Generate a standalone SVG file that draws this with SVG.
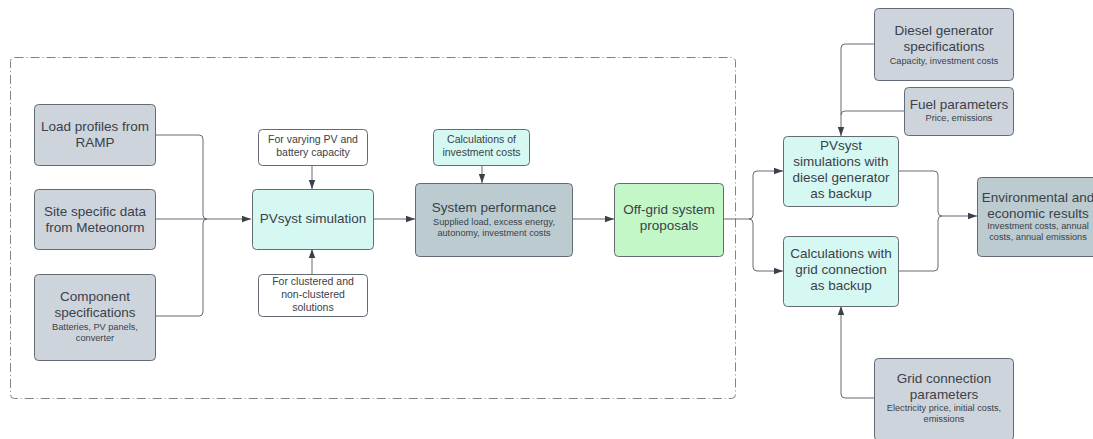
<svg xmlns="http://www.w3.org/2000/svg" width="1093" height="439" viewBox="0 0 1093 439">
<style>
  .box { stroke: #646b75; stroke-width: 1; }
  .gray { fill: #ced4dc; }
  .dark { fill: #bccbcf; }
  .cyan { fill: #d6f8f2; }
  .green { fill: #c3f7c8; }
  .white { fill: #ffffff; }
  text { font-family: "Liberation Sans", Arial, sans-serif; fill: #3a414a; text-anchor: middle; }
  .t { font-size: 13.5px; }
  .s { font-size: 9.2px; }
  .m { font-size: 10.5px; }
  .conn path { fill: none; stroke: #646b75; stroke-width: 1; }
</style>
<defs>
  <marker id="arr" markerUnits="userSpaceOnUse" markerWidth="10" markerHeight="8" refX="9" refY="4" orient="auto">
    <path d="M0,0.8 L9,4 L0,7.2 z" fill="#3a414a"/>
  </marker>
</defs>
<rect width="1093" height="439" fill="#ffffff"/>

<rect id="container" x="10.5" y="57.5" width="725" height="341" rx="4" fill="none" stroke="#7d838b" stroke-width="1" stroke-dasharray="9,3,1,3"/>

<g class="conn" id="connectors">
  <path d="M155,135 H199 Q203,135 203,139 V215 Q203,219 207,219" />
  <path d="M155,316 H199 Q203,316 203,312 V223 Q203,219 207,219" />
  <path d="M155,219 H251" marker-end="url(#arr)"/>
  <path d="M312,165 V189" marker-end="url(#arr)"/>
  <path d="M312,274 V249" marker-end="url(#arr)"/>
  <path d="M373,219 H415" marker-end="url(#arr)"/>
  <path d="M482,165 V183" marker-end="url(#arr)"/>
  <path d="M572,219 H614" marker-end="url(#arr)"/>
  <path d="M723,219 H749 Q753,219 753,215 V175 Q753,171 757,171 H783" marker-end="url(#arr)"/>
  <path d="M749,219 Q753,219 753,223 V267 Q753,271 757,271 H783" marker-end="url(#arr)"/>
  <path d="M874,44 H845 Q841,44 841,48 V136" marker-end="url(#arr)"/>
  <path d="M904,111 H845 Q841,111 841,115" />
  <path d="M874,398 H845 Q841,398 841,394 V306" marker-end="url(#arr)"/>
  <path d="M898,171 H934 Q938,171 938,175 V212 Q938,216 942,216 H977" marker-end="url(#arr)"/>
  <path d="M898,271 H934 Q938,271 938,267 V220 Q938,216 942,216" />
</g>

<g id="load-profiles">
  <rect class="box gray" x="34.5" y="104.5" width="121" height="61" rx="4"/>
  <text class="t" x="95" y="131">Load profiles from</text>
  <text class="t" x="95" y="147">RAMP</text>
</g>
<g id="site-data">
  <rect class="box gray" x="34.5" y="189.5" width="121" height="60" rx="4"/>
  <text class="t" x="95" y="216">Site specific data</text>
  <text class="t" x="95" y="232">from Meteonorm</text>
</g>
<g id="component-specs">
  <rect class="box gray" x="34.5" y="274.5" width="121" height="86" rx="4"/>
  <text class="t" x="95" y="301">Component</text>
  <text class="t" x="95" y="317">specifications</text>
  <text class="s" x="95" y="329.5">Batteries, PV panels,</text>
  <text class="s" x="95" y="340.5">converter</text>
</g>
<g id="varying">
  <rect class="box white" x="258.5" y="129.5" width="109" height="36" rx="4"/>
  <text class="m" x="313" y="143">For varying PV and</text>
  <text class="m" x="313" y="156">battery capacity</text>
</g>
<g id="pvsyst-sim">
  <rect class="box cyan" x="252.5" y="189.5" width="121" height="60" rx="4"/>
  <text class="t" x="313" y="223">PVsyst simulation</text>
</g>
<g id="clustered">
  <rect class="box white" x="258.5" y="274.5" width="109" height="42" rx="4"/>
  <text class="m" x="313" y="285">For clustered and</text>
  <text class="m" x="313" y="298">non-clustered</text>
  <text class="m" x="313" y="311">solutions</text>
</g>
<g id="invest-calc">
  <rect class="box cyan" x="433.5" y="129.5" width="96" height="36" rx="4"/>
  <text class="m" x="481.5" y="143">Calculations of</text>
  <text class="m" x="481.5" y="156">investment costs</text>
</g>
<g id="system-performance">
  <rect class="box dark" x="415.5" y="183.5" width="157" height="73" rx="4"/>
  <text class="t" x="494" y="212">System performance</text>
  <text class="s" x="494" y="225">Supplied load, excess energy,</text>
  <text class="s" x="494" y="236">autonomy, investment costs</text>
</g>
<g id="off-grid">
  <rect class="box green" x="614.5" y="183.5" width="109" height="73" rx="4"/>
  <text class="t" x="669" y="214">Off-grid system</text>
  <text class="t" x="669" y="230">proposals</text>
</g>
<g id="diesel-specs">
  <rect class="box gray" x="874.5" y="8.5" width="139" height="72" rx="4"/>
  <text class="t" x="944" y="35">Diesel generator</text>
  <text class="t" x="944" y="51">specifications</text>
  <text class="s" x="944" y="64">Capacity, investment costs</text>
</g>
<g id="fuel">
  <rect class="box gray" x="904.5" y="87.5" width="109" height="48" rx="4"/>
  <text class="t" x="959" y="109">Fuel parameters</text>
  <text class="s" x="959" y="121">Price, emissions</text>
</g>
<g id="pvsyst-diesel">
  <rect class="box cyan" x="783.5" y="136.5" width="115" height="70" rx="4"/>
  <text class="t" x="841" y="150">PVsyst</text>
  <text class="t" x="841" y="166">simulations with</text>
  <text class="t" x="841" y="182">diesel generator</text>
  <text class="t" x="841" y="198">as backup</text>
</g>
<g id="grid-calc">
  <rect class="box cyan" x="783.5" y="236.5" width="115" height="70" rx="4"/>
  <text class="t" x="841" y="258">Calculations with</text>
  <text class="t" x="841" y="274">grid connection</text>
  <text class="t" x="841" y="290">as backup</text>
</g>
<g id="env-results">
  <rect class="box dark" x="977.5" y="177.5" width="121" height="79" rx="4"/>
  <text class="t" x="1038" y="202">Environmental and</text>
  <text class="t" x="1038" y="218">economic results</text>
  <text class="s" x="1038" y="229">Investment costs, annual</text>
  <text class="s" x="1038" y="240">costs, annual emissions</text>
</g>
<g id="grid-params">
  <rect class="box gray" x="874.5" y="358.5" width="139" height="82" rx="4"/>
  <text class="t" x="944" y="383">Grid connection</text>
  <text class="t" x="944" y="399">parameters</text>
  <text class="s" x="944" y="411">Electricity price, initial costs,</text>
  <text class="s" x="944" y="422">emissions</text>
</g>
</svg>
